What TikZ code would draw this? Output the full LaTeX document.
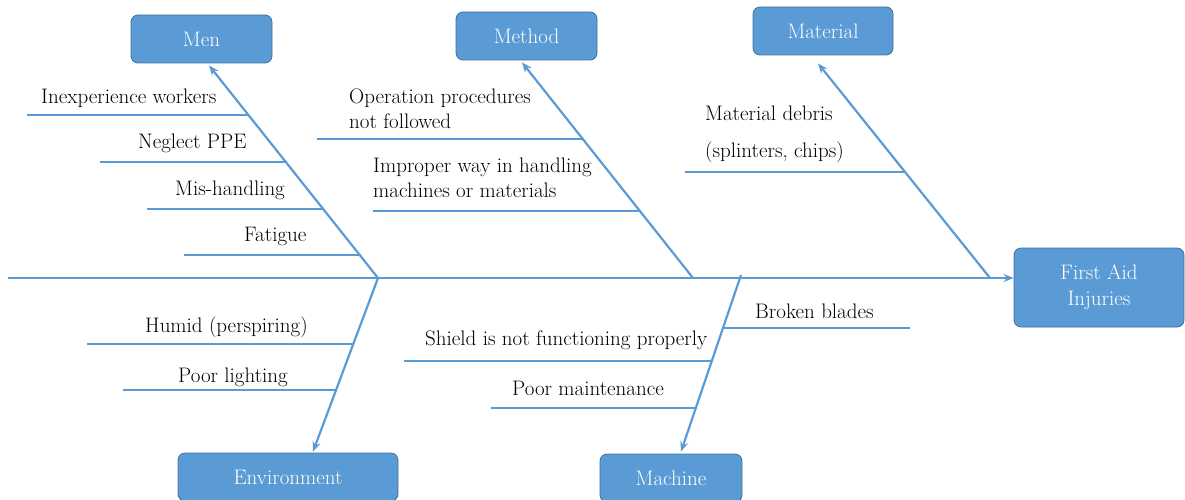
\documentclass[tikz,border=0pt]{standalone}
\usetikzlibrary{arrows.meta}
\definecolor{bone}{RGB}{91, 155, 213}
\definecolor{boxedge}{RGB}{65, 113, 156}

\begin{document}
\begin{tikzpicture}[x=1pt,y=-1pt,
  catbox/.style={draw=boxedge,fill=bone,rounded corners=7pt,line width=0.8pt,text=white,font=\fontsize{21}{26}\selectfont,minimum height=48pt},
  rib/.style={bone,line width=2.2pt},
  tip/.style={rib,-{Stealth[length=10pt,width=8pt]}},
  lbl/.style={inner sep=0pt,font=\fontsize{21}{25}\selectfont}]
\useasboundingbox (0,0) rectangle (1185,500);
% category boxes
\node[catbox,minimum width=141pt] (men) at (201.5,39) {Men};
\node[catbox,minimum width=141pt] (method) at (526.5,36) {Method};
\node[catbox,minimum width=140pt] (material) at (823,31) {Material};
\node[catbox,minimum width=220pt] (environment) at (288,477) {Environment};
\node[catbox,minimum width=142pt] (machine) at (671,478) {Machine};
\node[catbox,minimum width=170pt,minimum height=79pt,align=center] (effect) at (1099,287.5) {First Aid\\Injuries};
% spine
\coordinate (tail) at (8,278);
\draw[tip] (tail) -- (effect.west |- tail);
% main bones
\coordinate (menfoot) at (378,278);
\coordinate (methodfoot) at (693,278);
\coordinate (materialfoot) at (990,278);
\coordinate (machinefoot) at (741,275);
\draw[tip] (menfoot) -- ([xshift=7.5pt,yshift=-2pt]men.south);
\draw[tip] (methodfoot) -- ([xshift=-4.5pt,yshift=-2pt]method.south);
\draw[tip] (materialfoot) -- ([xshift=-5pt,yshift=-8pt]material.south);
\draw[tip] (menfoot) -- ([xshift=25pt,yshift=1pt]environment.north);
\draw[tip] (machinefoot) -- ([xshift=10pt,yshift=2pt]machine.north);
% Men
\coordinate (m1) at (27,115);  \coordinate (m1e) at (249,115);
\coordinate (m2) at (100,162); \coordinate (m2e) at (286,162);
\coordinate (m3) at (147,209); \coordinate (m3e) at (324,209);
\coordinate (m4) at (184,255); \coordinate (m4e) at (360.5,255);
\draw[rib] (m1) -- (m1e);
\draw[rib] (m2) -- (m2e);
\draw[rib] (m3) -- (m3e);
\draw[rib] (m4) -- (m4e);
\node[lbl,anchor=base west] (inexp) at (41,104) {Inexperience workers};
\node[lbl,anchor=base west] (ppe) at (138,148) {Neglect PPE};
\node[lbl,anchor=base west] (mishand) at (175,195) {Mis-handling};
\node[lbl,anchor=base west] (fatigue) at (244,241) {Fatigue};
% Method
\coordinate (p1) at (317,139); \coordinate (p1e) at (584,139);
\coordinate (p2) at (373,211); \coordinate (p2e) at (641,211);
\draw[rib] (p1) -- (p1e);
\draw[rib] (p2) -- (p2e);
\node[lbl,anchor=north west,align=left] (oper) at (349,88.5) {Operation procedures\\not followed};
\node[lbl,anchor=north west,align=left] (improper) at (373,157.5) {Improper way in handling\\machines or materials};
% Material
\coordinate (t1) at (685,172); \coordinate (t1e) at (905.5,172);
\draw[rib] (t1) -- (t1e);
\node[lbl,anchor=north west,align=left] (debris) at (705,105.5) {Material debris\\[12pt](splinters, chips)};
% Environment
\coordinate (e1) at (87,344);  \coordinate (e1e) at (353,344);
\coordinate (e2) at (123,390); \coordinate (e2e) at (336,390);
\draw[rib] (e1) -- (e1e);
\draw[rib] (e2) -- (e2e);
\node[lbl,anchor=base west] (humid) at (145,332) {Humid (perspiring)};
\node[lbl,anchor=base west] (lighting) at (178,382) {Poor lighting};
% Machine
\coordinate (c1e) at (910,328); \coordinate (c1) at (723,328);
\coordinate (c2) at (404,361);  \coordinate (c2e) at (712,361);
\coordinate (c3) at (491,408);  \coordinate (c3e) at (696,408);
\draw[rib] (c1) -- (c1e);
\draw[rib] (c2) -- (c2e);
\draw[rib] (c3) -- (c3e);
\node[lbl,anchor=base west] (blades) at (755,318) {Broken blades};
\node[lbl,anchor=base west] (shield) at (425,345) {Shield is not functioning properly};
\node[lbl,anchor=base west] (maint) at (512,395) {Poor maintenance};
\end{tikzpicture}
\end{document}
